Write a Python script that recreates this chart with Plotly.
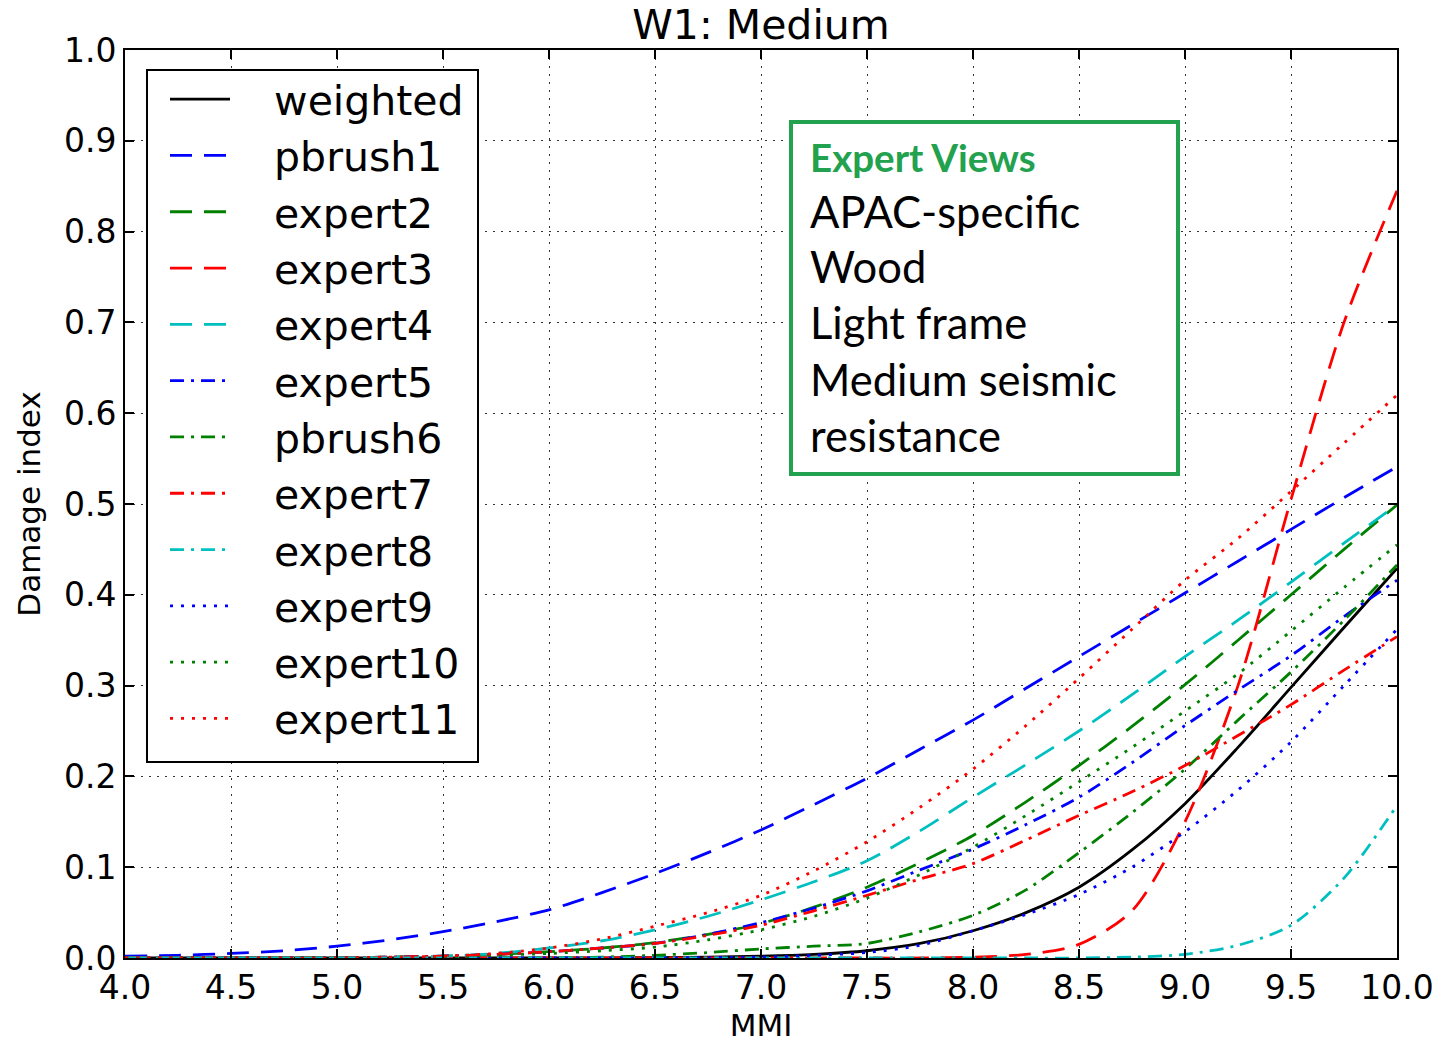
import plotly.graph_objects as go

# ---------------- data ----------------
MMI = [4.0, 4.25, 4.5, 4.75, 5.0, 5.25, 5.5, 5.75, 6.0, 6.25, 6.5, 6.75, 7.0,
       7.25, 7.5, 7.75, 8.0, 8.25, 8.5, 8.75, 9.0, 9.25, 9.5, 9.75, 10.0]

weighted = [0, 0, 0, 0, 0, 0, 0, 0, 0, 0.0002, 0.0005, 0.001, 0.002, 0.004, 0.008,
            0.016, 0.030, 0.050, 0.078, 0.119, 0.170, 0.232, 0.298, 0.364, 0.429]
pbrush1 = [0.002, 0.003, 0.005, 0.008, 0.013, 0.020, 0.029, 0.040, 0.053, 0.072, 0.093,
           0.116, 0.141, 0.169, 0.198, 0.230, 0.262, 0.297, 0.332, 0.367, 0.402, 0.437,
           0.472, 0.507, 0.541]
expert2 = [0, 0, 0, 0, 0, 0.001, 0.002, 0.004, 0.007, 0.011, 0.017, 0.026, 0.038, 0.056,
           0.078, 0.105, 0.135, 0.172, 0.212, 0.255, 0.301, 0.350, 0.400, 0.450, 0.499]
expert3 = [0, 0, 0, 0, 0, 0, 0, 0, 0, 0, 0, 0, 0, 0, 0, 0, 0.001, 0.004, 0.015, 0.052,
           0.150, 0.300, 0.505, 0.700, 0.845]
expert4 = [0, 0, 0, 0, 0, 0.001, 0.002, 0.005, 0.011, 0.019, 0.031, 0.046, 0.064, 0.084,
           0.107, 0.140, 0.177, 0.213, 0.250, 0.290, 0.332, 0.372, 0.414, 0.457, 0.499]
expert5 = [0, 0, 0, 0, 0, 0.001, 0.002, 0.004, 0.007, 0.011, 0.016, 0.026, 0.039, 0.055,
           0.074, 0.097, 0.120, 0.147, 0.177, 0.215, 0.256, 0.295, 0.333, 0.376, 0.416]
pbrush6 = [0, 0, 0, 0, 0, 0, 0, 0, 0, 0.001, 0.003, 0.006, 0.010, 0.013, 0.016, 0.029,
           0.047, 0.075, 0.116, 0.160, 0.208, 0.262, 0.315, 0.372, 0.433]
expert7 = [0, 0, 0, 0, 0, 0.001, 0.002, 0.004, 0.007, 0.011, 0.016, 0.025, 0.036, 0.052,
           0.069, 0.087, 0.104, 0.130, 0.157, 0.183, 0.212, 0.245, 0.279, 0.317, 0.354]
expert8 = [0, 0, 0, 0, 0, 0, 0, 0, 0, 0, 0, 0, 0, 0, 0, 0, 0, 0, 0, 0.001, 0.004, 0.014,
           0.036, 0.088, 0.168]
expert9 = [0, 0, 0, 0, 0, 0, 0, 0, 0, 0, 0, 0.0005, 0.001, 0.003, 0.006, 0.014, 0.030,
           0.048, 0.070, 0.100, 0.139, 0.185, 0.238, 0.300, 0.362]
expert10 = [0, 0, 0, 0, 0, 0, 0.001, 0.003, 0.005, 0.008, 0.012, 0.020, 0.031, 0.046,
            0.066, 0.092, 0.122, 0.157, 0.194, 0.232, 0.272, 0.313, 0.360, 0.408, 0.455]
expert11 = [0, 0, 0, 0, 0, 0.001, 0.002, 0.005, 0.011, 0.021, 0.035, 0.050, 0.069, 0.096,
            0.128, 0.166, 0.208, 0.256, 0.308, 0.362, 0.416, 0.462, 0.514, 0.567, 0.620]

series_names = ["weighted", "pbrush1", "expert2", "expert3", "expert4", "expert5",
                "pbrush6", "expert7", "expert8", "expert9", "expert10", "expert11"]
series_values = [weighted, pbrush1, expert2, expert3, expert4, expert5,
                 pbrush6, expert7, expert8, expert9, expert10, expert11]

x_ticks = [4.0, 4.5, 5.0, 5.5, 6.0, 6.5, 7.0, 7.5, 8.0, 8.5, 9.0, 9.5, 10.0]
y_ticks = [0.0, 0.1, 0.2, 0.3, 0.4, 0.5, 0.6, 0.7, 0.8, 0.9, 1.0]

info_lines = ["Expert Views", "APAC-specific", "Wood", "Light frame",
              "Medium seismic", "resistance"]

# ---------------- styles ----------------
BLUE, GREEN, RED, CYAN, BLACK = "#0000FF", "#008000", "#FF0000", "#00BFBF", "#000000"
DASH = "22px,12px"
DASHDOT = "14px,7px,3px,7px"
DOT = "3px,8px"
styles = [
    (BLACK, "solid"),
    (BLUE, DASH), (GREEN, DASH), (RED, DASH), (CYAN, DASH),
    (BLUE, DASHDOT), (GREEN, DASHDOT), (RED, DASHDOT), (CYAN, DASHDOT),
    (BLUE, DOT), (GREEN, DOT), (RED, DOT),
]

FONT = "DejaVu Sans"
W, H = 1438, 1043
L, R, T, B = 125, 41, 50, 85
PW, PH = W - L - R, H - T - B
NB = "\u00a0\u00a0\u00a0"  # gap between legend sample and label


def px_x(p):
    return (p - L) / PW


def px_y(p):
    return (H - B - p) / PH


fig = go.Figure()
for name, vals, (col, dash) in zip(series_names, series_values, styles):
    fig.add_trace(go.Scatter(
        x=MMI, y=vals, mode="lines", name=NB + name, legendgroup=name,
        line=dict(color=col, dash=dash, width=2.8, shape="spline", smoothing=0.8),
    ))

axis_common = dict(
    showline=True, linecolor="black", linewidth=2, mirror="ticks",
    ticks="inside", ticklen=9, tickwidth=1.5, tickcolor="black",
    showgrid=True, gridcolor="#333333", gridwidth=1.3, griddash="2px,6px",
    zeroline=False, automargin=False,
    tickfont=dict(family=FONT, size=33, color="black"),
    title_font=dict(family=FONT, size=31, color="black"),
)

fig.update_xaxes(range=[4.0, 10.0], tickvals=x_ticks,
                 ticktext=[f"{v:.1f}" for v in x_ticks], ticklabelstandoff=-1,
                 title_text="MMI", title_standoff=4, **axis_common)
fig.update_yaxes(range=[0.0, 1.0], tickvals=y_ticks,
                 ticktext=[f"{v:.1f}" for v in y_ticks],
                 title_text="Damage index", title_standoff=14, **axis_common)

# legend frame
fig.add_shape(type="rect", xref="paper", yref="paper",
              x0=px_x(147), x1=px_x(478), y0=px_y(762), y1=px_y(70),
              line=dict(color="black", width=2), fillcolor="white", layer="above")

# info box
fig.add_shape(type="rect", xref="paper", yref="paper",
              x0=px_x(791), x1=px_x(1178), y0=px_y(474), y1=px_y(122),
              line=dict(color="#22A14E", width=4), fillcolor="white", layer="above")
line_centers = [157, 211, 266, 322, 379, 435]
for i, (txt, yc) in enumerate(zip(info_lines, line_centers)):
    fig.add_annotation(
        xref="paper", yref="paper", x=px_x(808), y=px_y(yc),
        xanchor="left", yanchor="middle", showarrow=False,
        text=f"<b>{txt}</b>" if i == 0 else txt,
        font=dict(family="Lato", size=43.5 if i else 38.5,
                  color="#22A14E" if i == 0 else "black"),
    )

fig.update_layout(
    width=W, height=H,
    margin=dict(l=L, r=R, t=T, b=B, autoexpand=False),
    paper_bgcolor="white", plot_bgcolor="white",
    title=dict(text="W1: Medium", x=(L + PW / 2) / W, xanchor="center",
               y=1 - 25 / H, yanchor="middle",
               font=dict(family=FONT, size=41, color="black")),
    legend=dict(x=px_x(165), y=px_y(66), xanchor="left", yanchor="top",
                bgcolor="rgba(0,0,0,0)", borderwidth=0,
                font=dict(family=FONT, size=41, color="black"),
                itemwidth=60, tracegroupgap=3.8, traceorder="normal"),
    showlegend=True,
)

fig.write_html("out.html", config={"displayModeBar": False},
               post_script="document.body.style.margin='0';")
